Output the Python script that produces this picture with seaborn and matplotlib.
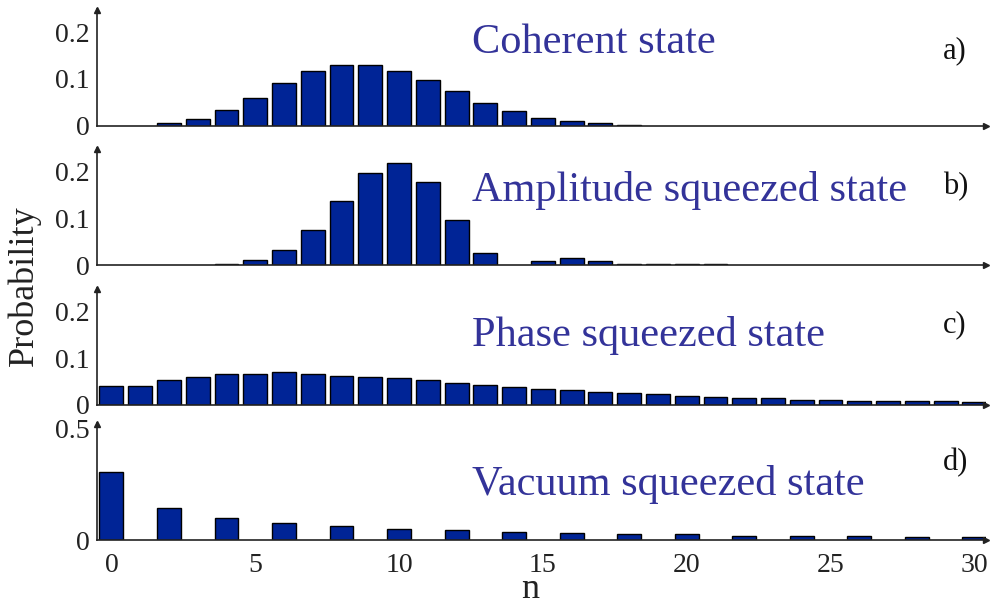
import matplotlib
matplotlib.use("Agg")
import matplotlib.pyplot as plt
import seaborn as sns
import pandas as pd

# Datos
n_coh = [2, 3, 4, 5, 6, 7, 8, 9, 10, 11, 12, 13, 14, 15, 16, 17, 18]
p_coh = [0.006, 0.015, 0.033, 0.059, 0.092, 0.118, 0.130, 0.130, 0.118,
         0.097, 0.074, 0.049, 0.031, 0.017, 0.011, 0.006, 0.002]

n_amp = [4, 5, 6, 7, 8, 9, 10, 11, 12, 13, 15, 16, 17, 18, 19, 20, 21]
p_amp = [0.002, 0.011, 0.033, 0.074, 0.136, 0.196, 0.218, 0.177, 0.097,
         0.026, 0.009, 0.015, 0.009, 0.003, 0.002, 0.002, 0.002]

n_pha = list(range(31))
p_pha = [0.040, 0.040, 0.054, 0.060, 0.066, 0.066, 0.070, 0.066, 0.063,
         0.060, 0.057, 0.054, 0.048, 0.043, 0.039, 0.034, 0.032, 0.028,
         0.026, 0.023, 0.020, 0.017, 0.014, 0.014, 0.011, 0.011, 0.008,
         0.008, 0.008, 0.008, 0.006]

n_vac = [0, 2, 4, 6, 8, 10, 12, 14, 16, 18, 20, 22, 24, 26, 28, 30]
p_vac = [0.306, 0.143, 0.100, 0.075, 0.063, 0.051, 0.045, 0.037, 0.031,
         0.025, 0.025, 0.019, 0.019, 0.019, 0.013, 0.013]

titulos = ["Coherent state", "Amplitude squeezed state",
           "Phase squeezed state", "Vacuum squeezed state"]
letras = ["a)", "b)", "c)", "d)"]

sns.set_style("white")
plt.rcParams['font.family'] = ['Liberation Serif', 'DejaVu Serif']

color_barra = "#002496"
color_texto = "#333399"

fig = plt.figure(figsize=(9.92, 6.06), dpi=100)

paneles = [
    (n_coh, p_coh, 0.7926, 0.25, [0, 0.1, 0.2], ["0", "0.1", "0.2"], 0.83),
    (n_amp, p_amp, 0.5627, 0.25, [0, 0.1, 0.2], ["0", "0.1", "0.2"], 0.83),
    (n_pha, p_pha, 0.3317, 0.25, [0, 0.1, 0.2], ["0", "0.1", "0.2"], 0.83),
    (n_vac, p_vac, 0.1089, 0.525, [0, 0.5], ["0", "0.5"], 0.415),
]
# posiciones del texto (pixeles desde arriba) para titulo y letra
pos_titulo = [53, 201, 346, 495]
pos_letra = [58, 194, 332, 470]

for i, (nn, pp, abajo, ytop, yt, ytl, ancho) in enumerate(paneles):
    ax = fig.add_axes([0.0978, abajo, 0.896, 0.1927])
    df = pd.DataFrame({"n": nn, "p": pp})
    sns.barplot(data=df, x="n", y="p", native_scale=True, width=ancho,
                color=color_barra, saturation=1, edgecolor="black",
                linewidth=1, ax=ax)
    ax.set_xlim(-0.5, 30.4)
    ax.set_ylim(0, ytop)
    ax.set_yticks(yt)
    ax.set_yticklabels(ytl)
    ax.set_xticks([0, 5, 10, 15, 20, 25, 30])
    if i == 3:
        ax.set_xticklabels(["0", "5", "10", "15", "20", "25", "30"])
    else:
        ax.set_xticklabels([])
    ax.tick_params(direction="in", length=9, width=1, labelsize=20,
                   colors="#222222")
    ax.tick_params(axis="x", pad=9)
    ax.tick_params(axis="y", pad=5)
    for s in ["top", "right"]:
        ax.spines[s].set_visible(False)
    for s in ["left", "bottom"]:
        ax.spines[s].set_color("#222222")
        ax.spines[s].set_linewidth(1.2)
    ax.set_xlabel("")
    ax.set_ylabel("")
    # flechas en los ejes
    ax.plot(1, 0, ">", color="#222222", markersize=5,
            transform=ax.get_yaxis_transform(), clip_on=False)
    ax.plot(-0.5, 0.99, "^", color="#222222", markersize=5,
            transform=ax.get_xaxis_transform(), clip_on=False)

    fig.text(472 / 992, 1 - pos_titulo[i] / 606, titulos[i], color=color_texto,
             fontsize=30.5, ha="left", va="baseline")
    fig.text(943 / 992, 1 - pos_letra[i] / 606, letras[i], color="#111111",
             fontsize=22, ha="left", va="baseline")

fig.text(24 / 992, 1 - 286 / 606, "Probability", rotation=90, fontsize=26,
         ha="center", va="center", color="#222222")
fig.text(530 / 992, 1 - 590 / 606, "n", fontsize=26, ha="center", va="center",
         color="#222222")

fig.savefig("out.png", dpi=100)
